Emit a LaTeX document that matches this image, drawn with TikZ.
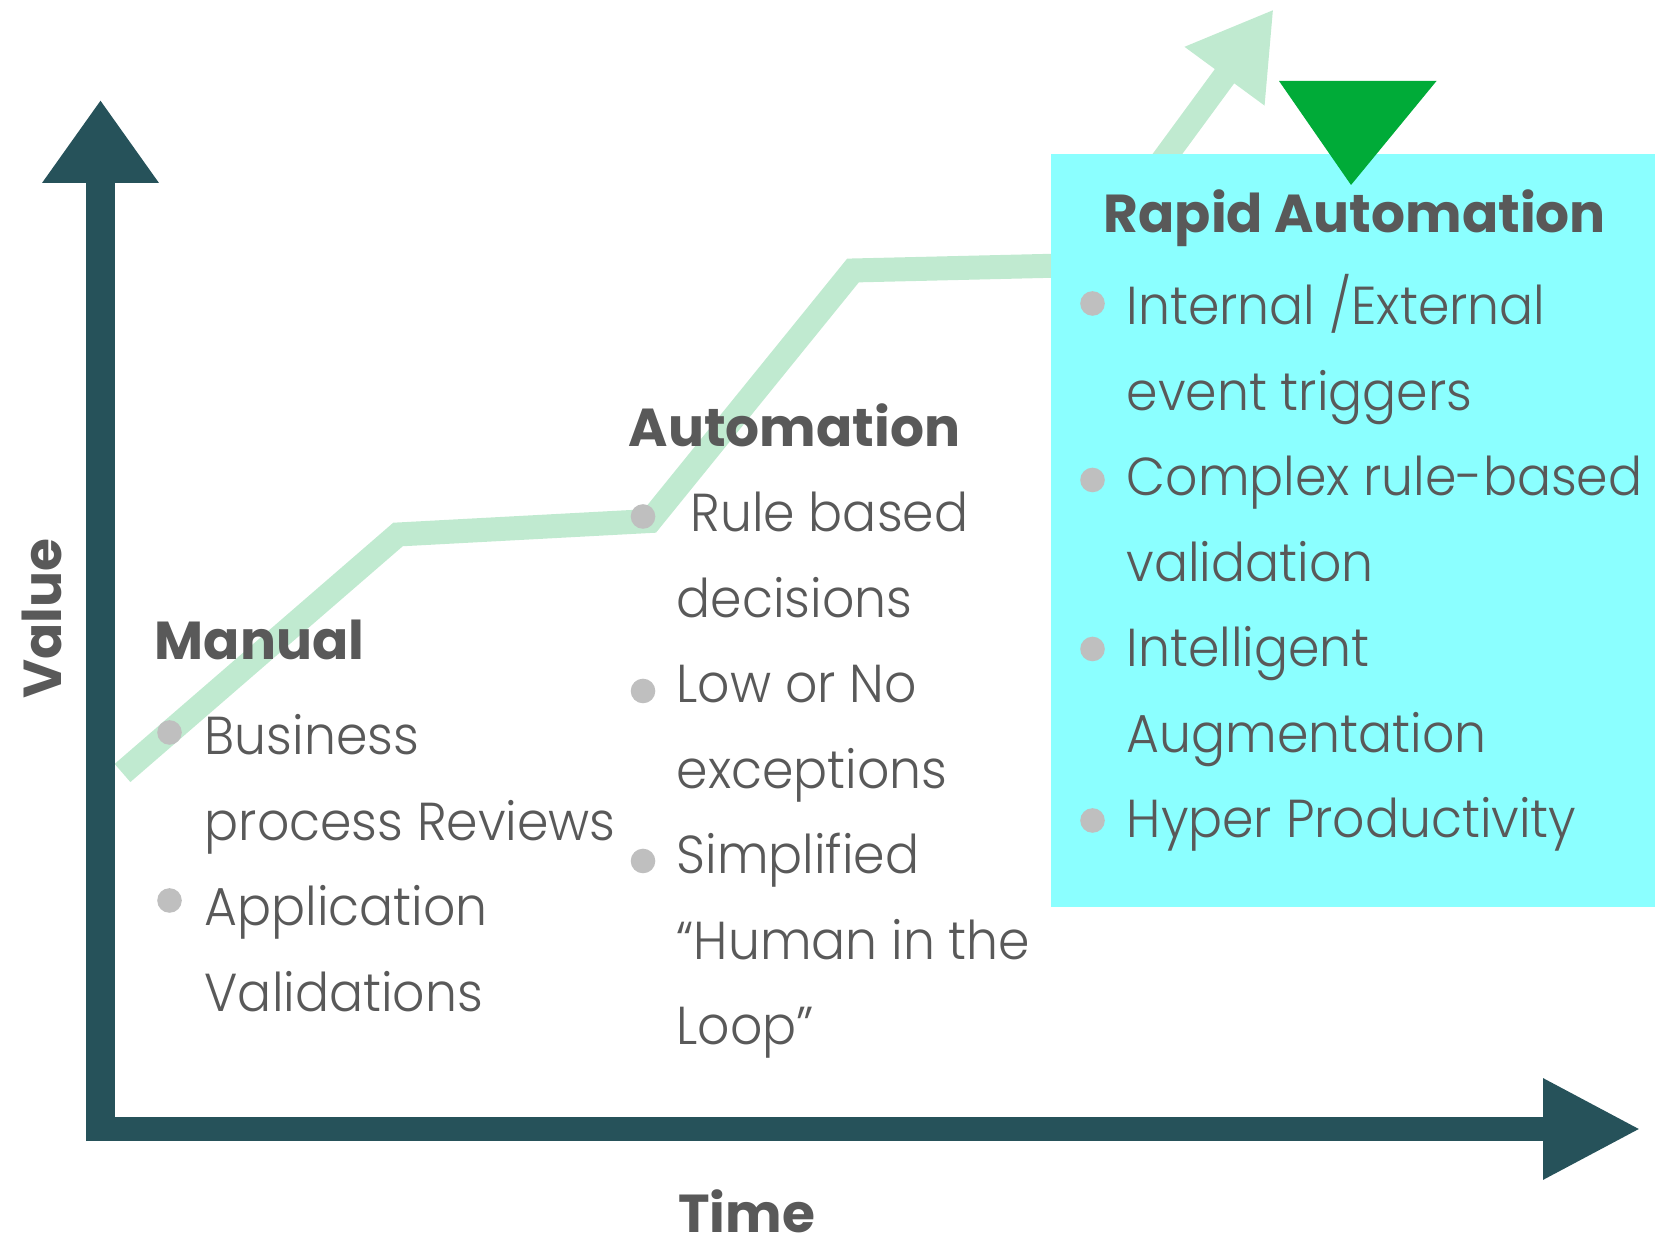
\documentclass[tikz,border=0pt]{standalone}
\usepackage{fontspec}
\setmainfont{Poppins}[UprightFont=* Light, UprightFeatures={FakeStretch=0.945}, BoldFont=* Bold]
\usetikzlibrary{arrows.meta}

\definecolor{axiscol}{HTML}{26525A}
\definecolor{trendgreen}{HTML}{C0EAD0}
\definecolor{boxcyan}{HTML}{8BFFFF}
\definecolor{markgreen}{HTML}{00AB38}
\definecolor{txtgray}{HTML}{595959}
\definecolor{dotgray}{HTML}{BFBFBF}
\newcommand{\chartfont}{\fontsize{15.2}{18}\selectfont}

\begin{document}
\begin{tikzpicture}[
  head/.style={anchor=base west, inner sep=0pt, text=txtgray, font=\chartfont\bfseries},
  item/.style={anchor=base west, inner sep=0pt, text=txtgray, font=\chartfont},
  bullet/.style={fill=dotgray}
]
\useasboundingbox (0,0) rectangle (16.55,12.36);

% trend line (under everything else)
\draw[trendgreen, line width=2.4mm, -{Triangle[length=8.3mm,width=9.3mm]}]
  (1.225,4.63) -- (3.98,7.015) -- (6.50,7.15) -- (8.53,9.655) -- (10.86,9.71) -- (12.736,12.267);

% axes
\draw[axiscol, line width=2.9mm, -{Triangle[length=8.3mm,width=11.1mm]}] (1.005,0.95) -- (1.005,11.36);
\draw[axiscol, line width=2.45mm, -{Triangle[length=9.8mm,width=9.4mm]}] (0.86,1.07) -- (16.41,1.07);

\node[head, anchor=base, rotate=90] (value) at (0.617,6.17) {Value};
\node[head, anchor=base] (time) at (7.465,0.035) {Time};

% highlighted stage
\fill[boxcyan] (10.51,3.29) rectangle (16.6,10.82);
\fill[markgreen] (12.79,11.55) -- (14.365,11.55) -- (13.51,10.51) -- cycle;

% stage 1
\node[head] (manual) at (1.54,5.76) {Manual};
\foreach \txt [count=\i from 0] in {Business, process Reviews, Application, Validations}
  \node[item] (manual-\i) at (2.04,4.81-0.855*\i) {\txt};
\foreach \y in {5.035,3.355}
  \fill[bullet] (1.695,\y) circle (0.123);

% stage 2
\node[head] (auto) at (6.28,7.89) {Automation};
\foreach \txt [count=\i from 0] in {{\ Rule based}, decisions, Low or No, exceptions, Simplified, “Human in the, Loop”}
  \node[item] (auto-\i) at (6.76,7.04-0.855*\i) {\txt};
\foreach \y in {7.195,5.45,3.75}
  \fill[bullet] (6.43,\y) circle (0.123);

% stage 3
\node[head] (rapid) at (11.03,10.03) {Rapid Automation};
\foreach \txt [count=\i from 0] in {Internal /External, event triggers, Complex rule-based, validation, Intelligent, Augmentation, Hyper Productivity}
  \node[item] (rapid-\i) at (11.26,9.11-0.855*\i) {\txt};
\foreach \y in {9.325,7.56,5.87,4.155}
  \fill[bullet] (10.925,\y) circle (0.123);

\end{tikzpicture}
\end{document}
